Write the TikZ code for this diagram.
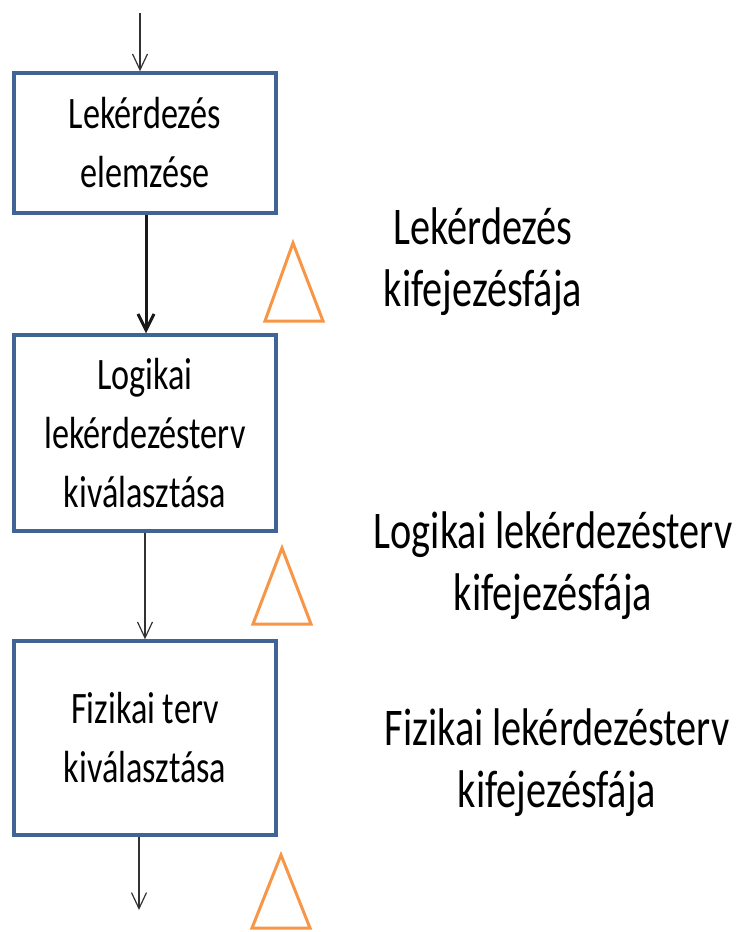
\documentclass[tikz,border=0pt]{standalone}
\usepackage{fontspec}
\setmainfont[FakeStretch=0.76]{Carlito}
\usetikzlibrary{arrows.meta}
\definecolor{boxblue}{RGB}{64,100,150}
\definecolor{triorange}{RGB}{247,150,70}
\definecolor{arrowgray}{RGB}{50,50,50}
\begin{document}
\begin{tikzpicture}[x=1pt,y=-1pt,
  stage/.style={draw=boxblue, line width=3.4pt, fill=white, minimum width=262pt, align=center, font=\fontsize{45}{59}\selectfont, inner sep=0pt},
  lbl/.style={align=center, font=\fontsize{53}{62}\selectfont, inner sep=0pt},
  flow/.style={draw=arrowgray, line width=1.2pt, -{Straight Barb[length=16pt,width=15pt,line width=1.2pt]}},
  flowbold/.style={draw=black!90, line width=3pt, -{Straight Barb[length=16pt,width=16pt]}},
  tri/.style={draw=triorange, line width=3pt, line join=miter}]
\useasboundingbox (0,0) rectangle (739,932);
\node[stage, minimum height=140pt] (b1) at (145,143) {Lekérdezés\\elemzése};
\node[stage, minimum height=196pt] (b2) at (145,433) {Logikai\\lekérdezésterv\\kiválasztása};
\node[stage, minimum height=194pt] (b3) at (145,738) {Fizikai terv\\kiválasztása};
\coordinate (in) at (140,13);
\draw[flow] (in) -- (in |- b1.north);
\draw[flowbold] ([xshift=1pt]b1.south) -- ([xshift=1pt]b2.north);
\draw[flow] (b2.south) -- (b3.north);
\coordinate (out) at (139,910);
\draw[flow] (out |- b3.south) -- (out);
\draw[tri] (293,243) -- (323,321) -- (265,321) -- cycle;
\draw[tri] (282,548) -- (311,624) -- (253,624) -- cycle;
\draw[tri] (281,855) -- (310,928) -- (252,928) -- cycle;
\node[lbl] (l1) at (483,262) {Lekérdezés\\kifejezésfája};
\node[lbl] (l2) at (553,566) {Logikai lekérdezésterv\\kifejezésfája};
\node[lbl] (l3) at (557,763) {Fizikai lekérdezésterv\\kifejezésfája};
\end{tikzpicture}
\end{document}
